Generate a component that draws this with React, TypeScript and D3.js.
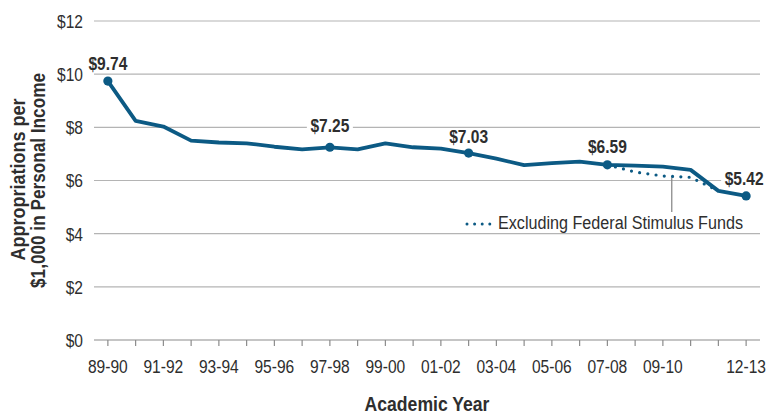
import React from "react";
import * as d3 from "d3";

const years = [
  "89-90", "90-91", "91-92", "92-93", "93-94", "94-95", "95-96", "96-97",
  "97-98", "98-99", "99-00", "00-01", "01-02", "02-03", "03-04", "04-05",
  "05-06", "06-07", "07-08", "08-09", "09-10", "10-11", "11-12", "12-13",
];
const values = [
  9.74, 8.24, 8.03, 7.5, 7.43, 7.4, 7.27, 7.17,
  7.25, 7.17, 7.4, 7.25, 7.2, 7.03, 6.82, 6.58,
  6.65, 6.71, 6.59, 6.56, 6.52, 6.4, 5.61, 5.42,
];
// Excluding federal stimulus funds (07-08 through 11-12)
const exclYears = ["07-08", "08-09", "09-10", "10-11", "11-12"];
const exclValues = [6.59, 6.32, 6.17, 6.12, 5.61];

const tickLabelYears = [
  "89-90", "91-92", "93-94", "95-96", "97-98", "99-00",
  "01-02", "03-04", "05-06", "07-08", "09-10", "12-13",
];
const yTicks = [0, 2, 4, 6, 8, 10, 12];

const labeledYears = ["89-90", "97-98", "02-03", "07-08", "12-13"];
const labelText = ["$9.74", "$7.25", "$7.03", "$6.59", "$5.42"];
const labelDy = [-11, -15, -10, -12, -11];
const labelDx = [0, 0, 0, 0, -2];

const legendLabel = "Excluding Federal Stimulus Funds";
const xTitle = "Academic Year";
const yTitle1 = "Appropriations per";
const yTitle2 = "$1,000 in Personal Income";

const W = 768;
const H = 415;
const left = 94;
const right = 760;
const top = 21;
const bottom = 340;
const lineColor = "#0c5a84";
const gridColor = "#b4b4b4";
const textColor = "#2e2e2e";
const font = "'Liberation Sans', Arial, sans-serif";

type NTProps = {
  x: number;
  y: number;
  anchor?: "start" | "middle" | "end";
  size: number;
  bold?: boolean;
  sx?: number;
  rotate?: number;
  dy?: string;
  children: React.ReactNode;
};

function NText({ x, y, anchor = "start", size, bold, sx = 0.82, rotate = 0, dy, children }: NTProps) {
  return (
    <text
      transform={`translate(${x},${y}) rotate(${rotate}) scale(${sx},1)`}
      textAnchor={anchor}
      fontSize={size}
      fontWeight={bold ? "bold" : "normal"}
      fill={textColor}
      dy={dy}
    >
      {children}
    </text>
  );
}

export default function App() {
  const x = d3.scalePoint<string>().domain(years).range([left, right]).padding(0.5);
  const y = d3.scaleLinear().domain([0, 12]).range([bottom, top]);

  const line = d3
    .line<number>()
    .x((_, i) => x(years[i]) as number)
    .y((d) => y(d));
  const exclLine = d3
    .line<number>()
    .x((_, i) => x(exclYears[i]) as number)
    .y((d) => y(d));

  // pointer from legend to dotted line
  const px = (x("09-10") as number) + ((x("10-11") as number) - (x("09-10") as number)) * 0.32;
  const pTop = y(exclValues[2] + (exclValues[3] - exclValues[2]) * 0.32) + 1;

  const legendY = 224;
  const legendX = 467;

  return (
    <svg
      width={W}
      height={H}
      style={{ position: "absolute", left: 0, top: 0, background: "#fff" }}
      fontFamily={font}
    >
      {/* gridlines */}
      {yTicks.map((t) => (
        <line
          key={"g" + t}
          x1={left}
          x2={right}
          y1={y(t)}
          y2={y(t)}
          stroke={t === 0 ? "#8c8c8c" : gridColor}
          strokeWidth={1.2}
        />
      ))}
      {/* y tick labels */}
      {yTicks.map((t) => (
        <NText key={"yl" + t} x={83} y={y(t)} dy="0.36em" anchor="end" size={19}>
          {"$" + t}
        </NText>
      ))}
      {/* x ticks */}
      {years.map((yr) => (
        <line
          key={"t" + yr}
          x1={x(yr)}
          x2={x(yr)}
          y1={bottom}
          y2={bottom + 6}
          stroke="#8c8c8c"
          strokeWidth={1.2}
        />
      ))}
      {tickLabelYears.map((yr) => (
        <NText key={"xl" + yr} x={x(yr) as number} y={bottom + 33} anchor="middle" size={19}>
          {yr}
        </NText>
      ))}
      {/* axis titles */}
      <NText x={(left + right) / 2} y={411} anchor="middle" size={20} bold sx={0.88}>
        {xTitle}
      </NText>
      <NText x={25} y={(top + bottom) / 2 - 1} anchor="middle" size={20} bold sx={0.9} rotate={-90}>
        {yTitle1}
      </NText>
      <NText x={45} y={(top + bottom) / 2} anchor="middle" size={20} bold sx={0.86} rotate={-90}>
        {yTitle2}
      </NText>

      {/* label backgrounds */}
      {labeledYears.map((yr, i) => {
        const v = values[years.indexOf(yr)];
        const cx = (x(yr) as number) + labelDx[i];
        const by = y(v) + labelDy[i];
        return (
          <rect key={"bg" + yr} x={cx - 23} y={by - 15} width={46} height={18} fill="#fff" />
        );
      })}

      {/* legend */}
      <line x1={px} x2={px} y1={pTop} y2={212} stroke="#8c8c8c" strokeWidth={1.3} />
      <line
        x1={legendX}
        x2={legendX + 27}
        y1={legendY}
        y2={legendY}
        stroke={lineColor}
        strokeWidth={3}
        strokeLinecap="round"
        strokeDasharray="0 7.6"
      />
      <NText x={498} y={229} size={19} sx={0.85}>
        {legendLabel}
      </NText>

      {/* lines */}
      <path
        d={exclLine(exclValues) || ""}
        fill="none"
        stroke={lineColor}
        strokeWidth={3.2}
        strokeLinecap="round"
        strokeDasharray="0 8.3"
      />
      <path
        d={line(values) || ""}
        fill="none"
        stroke={lineColor}
        strokeWidth={3.8}
        strokeLinejoin="round"
      />
      {labeledYears.map((yr) => {
        const v = values[years.indexOf(yr)];
        return <circle key={"m" + yr} cx={x(yr)} cy={y(v)} r={4.6} fill={lineColor} />;
      })}
      {labeledYears.map((yr, i) => {
        const v = values[years.indexOf(yr)];
        return (
          <NText
            key={"lt" + yr}
            x={(x(yr) as number) + labelDx[i]}
            y={y(v) + labelDy[i]}
            anchor="middle"
            size={19}
            bold
          >
            {labelText[i]}
          </NText>
        );
      })}
    </svg>
  );
}
